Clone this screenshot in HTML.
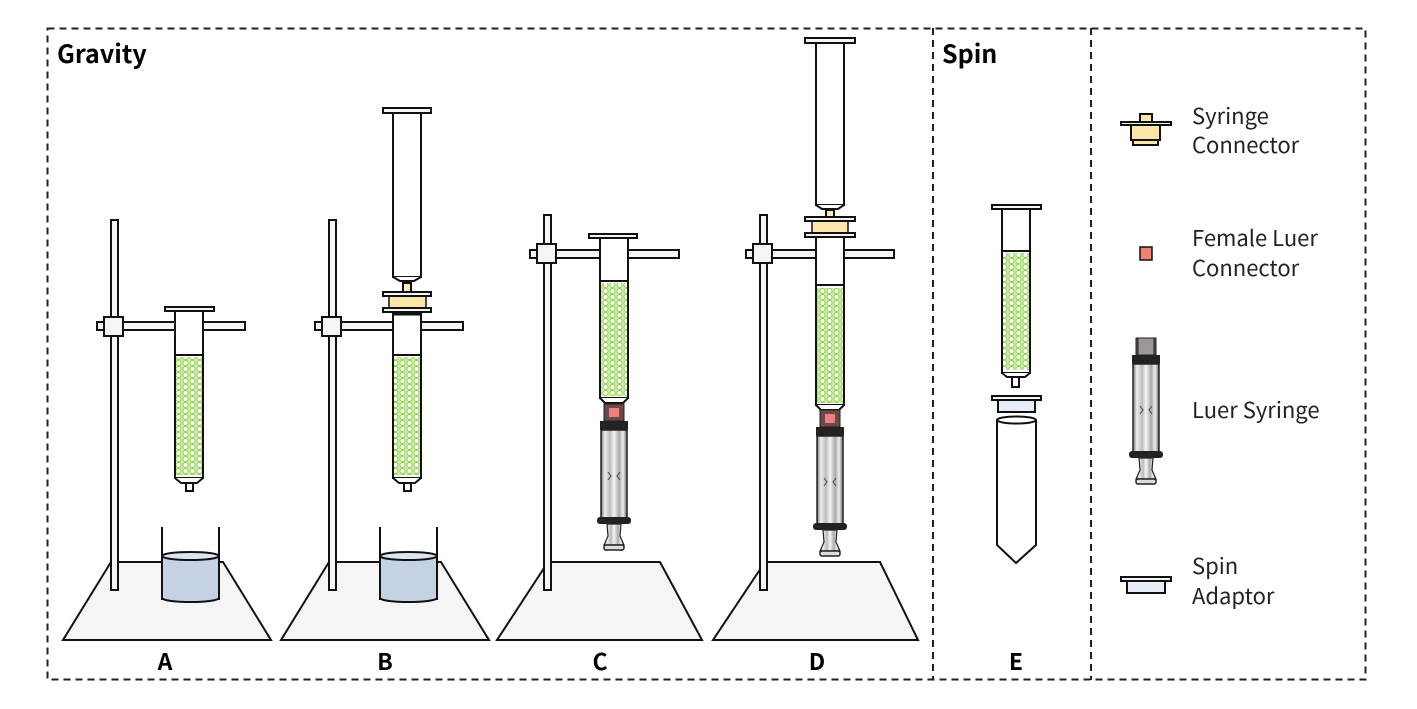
<!DOCTYPE html>
<html><head><meta charset="utf-8"><style>
html,body{margin:0;padding:0;background:#fff}
svg{display:block}
text{font-family:"Noto Sans CJK JP","Liberation Sans",sans-serif}
</style></head><body>
<svg width="1417" height="709" viewBox="0 0 1417 709" xmlns="http://www.w3.org/2000/svg">
<defs>
<pattern id="beads" width="7" height="6" patternUnits="userSpaceOnUse">
<rect width="7" height="6" fill="#cdeca8"/>
<circle cx="3.5" cy="3" r="2.5" fill="#fff" stroke="#8fd050" stroke-width="1"/>
</pattern>
<linearGradient id="bar" x1="0" x2="1">
<stop offset="0" stop-color="#777"/><stop offset="0.15" stop-color="#eee"/><stop offset="0.35" stop-color="#bbb"/><stop offset="0.5" stop-color="#f5f5f5"/><stop offset="0.7" stop-color="#aaa"/><stop offset="0.85" stop-color="#eee"/><stop offset="1" stop-color="#666"/>
</linearGradient>
<g id="luer">
<rect x="-10" y="0" width="20" height="17" fill="#6a4a48" stroke="#222" stroke-width="1"/>
<rect x="-5" y="4" width="10" height="9" fill="#f08080"/>
<rect x="-14" y="17" width="28" height="9" fill="#222"/>
<rect x="-13" y="26" width="26" height="88" fill="url(#bar)" stroke="#222" stroke-width="1.5"/>
<path d="M-6 68 l3 4 l-3 4 M6 68 l-3 4 l3 4" stroke="#444" fill="none" stroke-width="1"/>
<rect x="-17" y="113" width="34" height="7" rx="3" fill="#222"/>
<path d="M-7 120 L7 120 L6 132 L10 141 L-10 141 L-6 132 Z" fill="url(#bar)" stroke="#222" stroke-width="1.2"/>
<rect x="-10" y="141" width="20" height="5" rx="2" fill="#ddd" stroke="#222" stroke-width="1.5"/>
</g>
</defs>

<rect x="47.5" y="28.5" width="1318" height="651" fill="none" stroke="#222" stroke-width="2" stroke-dasharray="7,5"/>
<line x1="933" y1="28" x2="933" y2="680" stroke="#222" stroke-width="2" stroke-dasharray="7,5"/>
<line x1="1091" y1="28" x2="1091" y2="680" stroke="#222" stroke-width="2" stroke-dasharray="7,5"/>
<text x="57" y="63" font-size="25" font-weight="bold">Gravity</text>
<text x="942" y="63" font-size="25" font-weight="bold">Spin</text>

<g stroke="#111" stroke-width="2">
<polygon points="111,562 223,562 271,640 63,640" fill="#f5f5f5"/>
<rect x="111" y="220" width="7" height="370" fill="#f5f5f5"/>
<rect x="97" y="322" width="148" height="8" fill="#f5f5f5"/>
<rect x="104" y="317" width="19" height="19" fill="#f5f5f5"/>
<rect x="165" y="307" width="49" height="4" fill="#f5f5f5"/>
<rect x="175" y="311" width="28" height="167" fill="#fff"/>
<rect x="176" y="357" width="26" height="118" fill="url(#beads)" stroke="none"/>
<line x1="175" y1="355" x2="203" y2="355"/>
<path d="M175 478 L181 483 L197 483 L203 478" fill="#fff"/>
<rect x="186" y="483" width="7" height="8" fill="#fff"/>
<line x1="162" y1="527" x2="162" y2="600"/><line x1="219" y1="527" x2="219" y2="600"/>
<path d="M162 556 L162 598 A28.5 4 0 0 0 219 598 L219 556 Z" fill="#c4d2e4"/>
<ellipse cx="190.5" cy="556" rx="28.5" ry="4" fill="#dde6f0"/>

<polygon points="329,562 441,562 489,640 281,640" fill="#f5f5f5"/>
<rect x="329" y="220" width="7" height="370" fill="#f5f5f5"/>
<rect x="315" y="322" width="148" height="8" fill="#f5f5f5"/>
<rect x="322" y="317" width="19" height="19" fill="#f5f5f5"/>
<rect x="393" y="113" width="28" height="164" fill="#fff"/>
<rect x="383" y="108" width="48" height="5" fill="#f5f5f5"/>
<path d="M393 277 L400 281 L414 281 L421 277" fill="#fff"/>
<rect x="403" y="283" width="8" height="9" fill="#fdeeb8"/>
<rect x="389" y="296" width="37" height="12" fill="#fde7a8" stroke-width="1.5"/>
<rect x="383" y="292" width="48" height="4" fill="#f5f5f5"/>
<rect x="383" y="308" width="48" height="4" fill="#f5f5f5"/>
<rect x="393" y="312" width="28" height="166" fill="#fff"/>
<rect x="394" y="357" width="26" height="118" fill="url(#beads)" stroke="none"/>
<line x1="393" y1="355" x2="421" y2="355"/>
<line x1="393" y1="314" x2="421" y2="314" stroke-width="3"/>
<path d="M393 478 L399 483 L415 483 L421 478" fill="#fff"/>
<rect x="404" y="483" width="7" height="8" fill="#fff"/>
<line x1="380" y1="527" x2="380" y2="600"/><line x1="437" y1="527" x2="437" y2="600"/>
<path d="M380 556 L380 598 A28.5 4 0 0 0 437 598 L437 556 Z" fill="#c4d2e4"/>
<ellipse cx="408.5" cy="556" rx="28.5" ry="4" fill="#dde6f0"/>

<polygon points="548,562 660,562 702,640 497,640" fill="#f5f5f5"/>
<rect x="544" y="215" width="7" height="375" fill="#f5f5f5"/>
<rect x="530" y="250" width="149" height="8" fill="#f5f5f5"/>
<rect x="537" y="244" width="19" height="19" fill="#f5f5f5"/>
<rect x="589" y="234" width="48" height="4" fill="#f5f5f5"/>
<rect x="600" y="238" width="28" height="160" fill="#fff"/>
<rect x="601" y="283" width="26" height="113" fill="url(#beads)" stroke="none"/>
<line x1="600" y1="281" x2="628" y2="281"/>
<path d="M600 398 L605 403 L623 403 L628 398" fill="#fff"/>

<polygon points="765,562 880,562 918,640 713,640" fill="#f5f5f5"/>
<rect x="760" y="215" width="7" height="375" fill="#f5f5f5"/>
<rect x="746" y="250" width="148" height="8" fill="#f5f5f5"/>
<rect x="753" y="244" width="19" height="19" fill="#f5f5f5"/>
<rect x="816" y="43" width="28" height="162" fill="#fff"/>
<rect x="805" y="38" width="50" height="5" fill="#f5f5f5"/>
<path d="M816 205 L822 209 L838 209 L844 205" fill="#fff"/>
<rect x="826" y="210" width="8" height="7" fill="#fdeeb8"/>
<rect x="812" y="221" width="36" height="12" fill="#fde7a8" stroke-width="1.5"/>
<rect x="805" y="217" width="50" height="4" fill="#f5f5f5"/>
<rect x="805" y="233" width="50" height="4" fill="#f5f5f5"/>
<rect x="816" y="237" width="28" height="168" fill="#fff"/>
<rect x="817" y="288" width="26" height="115" fill="url(#beads)" stroke="none"/>
<line x1="816" y1="285" x2="844" y2="285"/>
<path d="M816 405 L821 410 L839 410 L844 405" fill="#fff"/>

<rect x="992" y="205" width="49" height="4" fill="#f5f5f5"/>
<rect x="1002" y="209" width="28" height="164" fill="#fff"/>
<rect x="1003" y="253" width="26" height="117" fill="url(#beads)" stroke="none"/>
<line x1="1002" y1="251" x2="1030" y2="251"/>
<path d="M1002 373 L1007 377 L1025 377 L1030 373" fill="#fff"/>
<rect x="1012" y="377" width="7" height="10" fill="#fff"/>
<rect x="992" y="396" width="49" height="4" fill="#f5f5f5"/>
<rect x="998" y="400" width="37" height="12" fill="#e8eef8"/>
<path d="M997 420 L997 545 L1016 563 L1036 545 L1036 420" fill="#fff"/>
<ellipse cx="1016.5" cy="420" rx="19.5" ry="3.5" fill="#fff"/>

<rect x="1140" y="114" width="12" height="8" fill="#fde7a8"/>
<rect x="1131" y="125" width="29" height="15" fill="#fde7a8"/>
<rect x="1133" y="140" width="25" height="5" fill="#fde7a8"/>
<rect x="1121" y="122" width="50" height="3" fill="#f5f5f5"/>
<rect x="1140" y="247" width="12" height="13" fill="#f08070" stroke-width="1.5"/>
<rect x="1121" y="577" width="50" height="4" fill="#f5f5f5"/>
<rect x="1127" y="581" width="38" height="12" fill="#e8eef8"/>
</g>

<use href="#luer" x="614" y="404"/>
<use href="#luer" x="830" y="410"/>
<use href="#luer" x="1146" y="338"/>
<rect x="1138" y="338" width="16" height="17" fill="#999" stroke="#222"/>

<g font-size="22" fill="#222">
<text x="1192" y="124">Syringe</text>
<text x="1192" y="153">Connector</text>
<text x="1192" y="246">Female Luer</text>
<text x="1192" y="276">Connector</text>
<text x="1192" y="418">Luer Syringe</text>
<text x="1192" y="574">Spin</text>
<text x="1192" y="604">Adaptor</text>
</g>
<g font-size="23" font-weight="bold" text-anchor="middle">
<text x="165" y="670">A</text>
<text x="385" y="670">B</text>
<text x="600" y="670">C</text>
<text x="817" y="670">D</text>
<text x="1016" y="670">E</text>
</g>
</svg>
</body></html>
